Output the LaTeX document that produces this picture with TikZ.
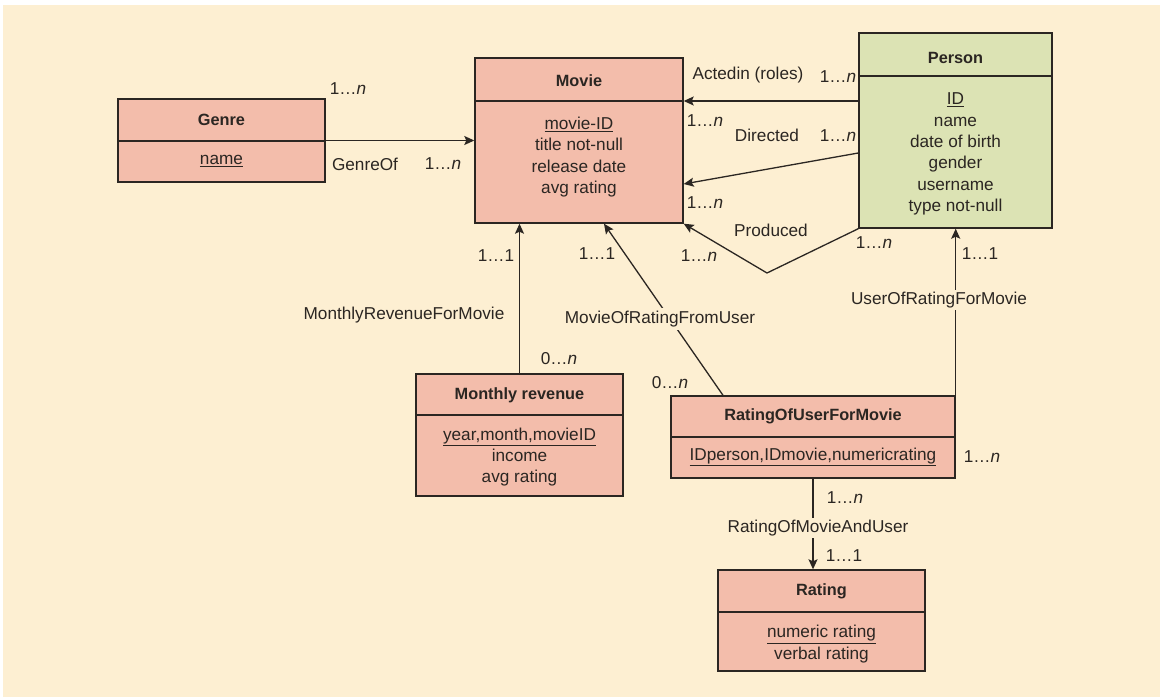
\documentclass[tikz,border=0pt]{standalone}
\usepackage{fontspec}
\setmainfont{Liberation Sans}
\usetikzlibrary{arrows.meta}
\definecolor{bgcream}{HTML}{FDEFD2}
\definecolor{boxsalmon}{HTML}{F3BDAB}
\definecolor{boxgreen}{HTML}{DCE3B4}
\definecolor{ink}{HTML}{2B2622}
\begin{document}
\begin{tikzpicture}[x=1pt,y=-1pt,
  font=\fontsize{17.2}{21.3}\selectfont,
  entity/.style={draw=ink, line width=1.4pt, fill=boxsalmon, inner sep=0pt, rectangle},
  personbox/.style={entity, fill=boxgreen},
  divider/.style={draw=ink, line width=1.4pt},
  title/.style={text=ink, font=\fontsize{16.3}{21.3}\selectfont\bfseries, inner sep=0pt},
  attrs/.style={text=ink, align=center, inner sep=0pt},
  link/.style={draw=ink, line width=1.3pt},
  tolink/.style={link, -{Stealth[length=10pt,width=9pt,inset=2pt]}},
  card/.style={text=ink, inner sep=1pt},
  rel/.style={text=ink, inner sep=2pt},
  relcut/.style={text=ink, inner sep=3pt, fill=bgcream}
]
% canvas
\fill[white] (0,0) rectangle (1160,698);
\fill[bgcream] (3,5) rectangle (1160,697);
\useasboundingbox (0,0) rectangle (1160,698);

% ---- entities ----
% Genre
\node[entity, minimum width=207pt, minimum height=83pt] (genre) at (221.5,140.5) {};
\draw[divider] (genre.west |- 0,141) -- (genre.east |- 0,141);
\node[title] (genreTitle) at (221.5,120) {Genre};
\node[attrs] (genreAttrs) at (221.5,161) {\underline{name}};

% Movie
\node[entity, minimum width=208pt, minimum height=165pt] (movie) at (579,140.5) {};
\draw[divider] (movie.west |- 0,101) -- (movie.east |- 0,101);
\node[title] (movieTitle) at (579,81) {Movie};
\node[attrs] (movieAttrs) at (579,157) {\underline{movie-ID}\\title not-null\\release date\\avg rating};

% Person
\node[personbox, minimum width=193pt, minimum height=195pt] (person) at (955.5,130.5) {};
\draw[divider] (person.west |- 0,76) -- (person.east |- 0,76);
\node[title] (personTitle) at (955.5,58) {Person};
\node[attrs] (personAttrs) at (955.5,154) {\underline{ID}\\name\\date of birth\\gender\\username\\type not-null};

% Monthly revenue
\node[entity, minimum width=207pt, minimum height=122pt] (monthly) at (519.5,435) {};
\draw[divider] (monthly.west |- 0,415) -- (monthly.east |- 0,415);
\node[title] (monthlyTitle) at (519.5,395) {Monthly revenue};
\node[attrs] (monthlyAttrs) at (519.5,457) {\underline{year,month,movieID}\\income\\avg rating};

% RatingOfUserForMovie
\node[entity, minimum width=284pt, minimum height=82pt] (ratingUser) at (813,437) {};
\draw[divider] (ratingUser.west |- 0,437) -- (ratingUser.east |- 0,437);
\node[title] (ratingUserTitle) at (813,416) {RatingOfUserForMovie};
\node[attrs] (ratingUserAttrs) at (813,457) {\underline{IDperson,IDmovie,numericrating}};

% Rating
\node[entity, minimum width=207pt, minimum height=101pt] (rating) at (821.5,620.5) {};
\draw[divider] (rating.west |- 0,612) -- (rating.east |- 0,612);
\node[title] (ratingTitle) at (821.5,591) {Rating};
\node[attrs] (ratingAttrs) at (821.5,644) {\underline{numeric rating}\\verbal rating};

% ---- relationships ----
% GenreOf
\draw[tolink] (genre.east) -- (movie.west |- genre.east);
\node[card] (cGenreA) at (348,89) {1…\textit{n}};
\node[rel]  (lGenreOf) at (365,164) {GenreOf};
\node[card] (cGenreB) at (443,164) {1…\textit{n}};

% Actedin (roles)
\draw[tolink] (person.west |- 0,101) -- (movie.east |- 0,101);
\node[rel]  (lActed) at (748,75) {Actedin (roles)};
\node[card] (cActedP) at (838,77) {1…\textit{n}};
\node[card] (cActedM) at (705,121) {1…\textit{n}};

% Directed
\draw[tolink] (person.west |- 0,153) -- (movie.east |- 0,184);
\node[rel]  (lDirected) at (767,135) {Directed};
\node[card] (cDirP) at (838,136) {1…\textit{n}};
\node[card] (cDirM) at (705,203) {1…\textit{n}};

% Produced
\coordinate (prodBend) at (767,273);
\draw[tolink] (person.south west) -- (prodBend) -- (movie.south east);
\node[rel]  (lProduced) at (771,230) {Produced};
\node[card] (cProdM) at (699,256) {1…\textit{n}};
\node[card] (cProdP) at (874,243) {1…\textit{n}};

% MonthlyRevenueForMovie
\draw[tolink] (monthly.north) -- (movie.south -| monthly.north);
\node[rel]  (lMonthly) at (404,315) {MonthlyRevenueForMovie};
\node[card] (cMonM) at (496,256) {1…1};
\node[card] (cMonR) at (559,359) {0…\textit{n}};

% MovieOfRatingFromUser
\draw[tolink] (ratingUser.north -| 723,0) -- (movie.south -| 604,0);
\node[relcut] (lMovieOfRating) at (660,319) {MovieOfRatingFromUser};
\node[card] (cMorM) at (597,254) {1…1};
\node[card] (cMorR) at (670,383) {0…\textit{n}};

% UserOfRatingForMovie
\draw[tolink] (ratingUser.north east) -- (person.south -| ratingUser.north east);
\node[relcut, inner sep=1.5pt] (lUserOfRating) at (939,300) {UserOfRatingForMovie};
\node[card] (cUorP) at (980,254) {1…1};
\node[card] (cUorR) at (982,457) {1…\textit{n}};

% RatingOfMovieAndUser
\draw[tolink] (ratingUser.south) -- (rating.north -| ratingUser.south);
\node[relcut, inner sep=2pt] (lRatingOf) at (818,528) {RatingOfMovieAndUser};
\node[card] (cRomU) at (845,498) {1…\textit{n}};
\node[card] (cRomR) at (844,556) {1…1};
\end{tikzpicture}
\end{document}
